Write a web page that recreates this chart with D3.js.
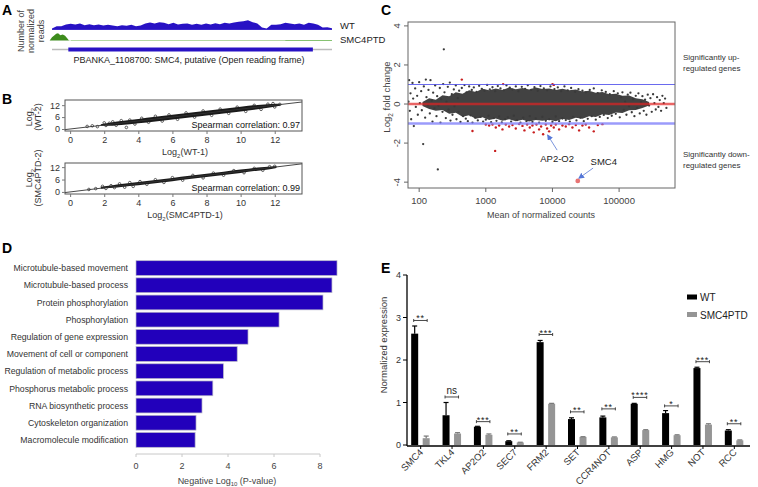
<!DOCTYPE html>
<html><head><meta charset="utf-8">
<script src="https://cdn.jsdelivr.net/npm/d3@7"></script>
<style>body{margin:0;background:#fff}svg{display:block;font-family:'Liberation Sans',Arial,Helvetica,sans-serif}</style>
</head><body>
<svg id="chart" width="758" height="487"></svg>
<script>
// ================= DATA =================
// Panel A: coverage (normalized reads) in 100-bp bins across the locus
const wtCoverage = [3,10,10,15,17,15,18,13,16,13, 15,12,14,12,10,13,11,14,10,12,
  18,21,18,22,20,16,20,15,17,18, 14,17,14,18,15,19,16,20,18,21,
  23,25,28,22,18,6,3,14,14,16, 20,18,16,18,14,20,18,14,6,7, 4];
const covBinStep = 100;
const smcPeakPos = [-50,0,40,90,130,180,230,280,330,360,400];
const smcPeakVal = [0,10,14,20,22,16,18,14,6,1,0];
const locusStart = 0, locusEnd = 6000, orfStart = 350, orfEnd = 5590;

// Panel B: log2 expression correlation (dense band envelope + scattered points)
const bandTopX  = [1.8,2.5,3,4,5,6,7,8,9,10,11,11.8,12.3];
const bandTopLo = [1.6,1.7,2.0,2.9,3.8,4.8,5.8,6.8,7.8,8.8,9.9,10.9,11.7];
const bandTopHi = [2.4,3.4,4.0,5.1,6.2,7.2,8.2,9.2,10.2,11.2,12.1,12.6,12.7];
const ptsTopX = [1.0,1.3,1.6,2.0,2.1,2.3,2.5,2.7,3.0,3.3,3.5,3.8,4.2,4.6,5.0,5.4,5.8,6.3,6.8,7.3,7.8,8.3,8.8,9.3,9.8,10.3,10.8,11.2,11.6,12.0,12.3,11.9];
const ptsTopY = [1.3,1.6,1.2,3.1,1.8,2.9,3.6,1.9,4.2,0.8,4.5,2.5,5.4,3.4,6.4,4.0,7.1,4.9,8.1,6.0,9.1,6.9,10.0,7.9,11.0,8.9,11.9,9.9,12.5,11.1,12.4,12.8];
const bandBotX  = [1.8,2.5,3,4,5,6,7,8,9,10,11,11.8,12.1];
const bandBotLo = [1.6,2.0,2.4,3.2,4.2,5.2,6.2,7.2,8.2,9.2,10.3,11.1,11.6];
const bandBotHi = [2.5,3.2,3.8,4.8,5.8,6.8,7.8,8.8,9.8,10.8,11.8,12.3,12.4];
const ptsBotX = [1.1,1.5,1.9,2.1,2.4,2.6,2.9,3.2,3.5,3.7,4.1,4.5,5.0,5.5,6.0,6.6,7.2,7.8,8.4,9.0,9.6,10.2,10.8,11.3,11.7,12.0];
const ptsBotY = [1.2,1.6,2.7,1.7,3.0,2.1,3.9,2.3,4.5,2.7,5.0,3.7,5.9,4.6,6.9,5.7,8.0,6.8,9.1,8.1,10.3,9.3,11.4,10.5,12.2,12.4];

// Panel C: MA plot (log10 mean of normalized counts, log2 fold change)
const coreLog = [2.05,2.15,2.25,2.35,2.45,2.55,2.65,2.75,2.85,2.95,3.05,3.15,3.25,3.35,3.45,3.55,3.65,3.75,3.85,3.95,
                 4.05,4.15,4.25,4.35,4.45,4.55,4.65,4.75,4.85,4.95,5.05,5.15,5.25,5.35,5.45];
const coreHi  = [0.1,0.3,0.22,0.45,0.4,0.6,0.52,0.7,0.62,0.78,0.7,0.8,0.72,0.84,0.76,0.82,0.74,0.85,0.77,0.8,
                 0.72,0.78,0.7,0.74,0.64,0.68,0.58,0.62,0.5,0.52,0.42,0.44,0.3,0.25,0.1];
const coreLo  = [-0.1,-0.25,-0.35,-0.3,-0.5,-0.45,-0.65,-0.58,-0.75,-0.68,-0.82,-0.74,-0.86,-0.78,-0.88,-0.8,-0.9,-0.82,-0.86,-0.8,
                 -0.88,-0.76,-0.82,-0.7,-0.76,-0.62,-0.66,-0.52,-0.56,-0.44,-0.46,-0.32,-0.3,-0.2,-0.08];
const grayPts = [
 [1.84,0.12],[1.85,1.22],[1.86,-0.35],[1.87,0.55],[1.88,-0.78],[1.9,1.08],[1.91,0.28],[1.92,-1.13],[1.94,0.8],[1.95,-0.15],
 [1.97,0.42],[1.98,-0.55],[2.0,1.12],[2.01,0.05],[2.03,0.66],[2.04,-0.32],[2.06,-2.05],[2.07,0.9],[2.09,-0.7],[2.1,1.25],
 [2.11,0.35],[2.13,-0.05],[2.14,0.72],[2.16,-0.48],[2.17,1.22],[2.19,0.18],[2.2,-0.9],[2.21,0.58],[2.23,-0.22],[2.24,0.95],
 [2.26,-0.62],[2.27,0.4],[2.28,-3.35],[2.29,-0.08],[2.31,0.82],[2.32,-0.95],[2.33,0.25],[2.35,-0.4],[2.36,1.02],[2.37,2.8],
 [2.38,0.6],[2.4,-0.72],[2.41,0.12],[2.43,0.88],[2.44,-0.28],[2.46,1.1],[2.47,-0.85],[2.49,0.5],[2.5,-0.55],[2.52,0.75],
 [2.53,-0.12],[2.55,0.95],[2.56,-0.78],[2.58,0.3],[2.59,-0.4],[2.6,0.68],
 [2.62,-0.92],[2.64,0.82],[2.66,-0.62],[2.68,0.97],[2.7,-0.75],[2.71,0.6],[2.73,-0.88],[2.75,0.9],[2.77,-0.58],[2.79,0.72],
 [2.8,-0.95],[2.82,0.85],[2.84,-0.7],[2.86,0.62],[2.88,-0.84],[2.9,0.93],[2.92,-0.66],[2.94,0.78],[2.96,-0.9],[2.98,0.68],
 [3.0,-0.8],[3.02,0.98],[3.04,-0.6],[3.06,0.75],[3.08,-0.93],[3.1,0.86],[3.12,-0.72],[3.14,0.66],[3.16,-0.86],[3.18,0.92],
 [3.2,-0.64],[3.22,0.8],[3.24,-0.94],[3.27,0.7],[3.29,-0.78],[3.31,0.95],[3.33,-0.68],[3.36,0.84],[3.38,-0.9],[3.4,0.74],
 [3.42,-0.6],[3.45,0.9],[3.47,-0.82],[3.49,0.66],[3.52,-0.95],[3.54,0.88],[3.56,-0.7],[3.59,0.78],[3.61,-0.88],[3.63,0.96],
 [3.66,-0.62],[3.68,0.72],[3.7,-0.92],[3.73,0.86],[3.75,-0.74],[3.78,0.68],[3.8,-0.96],[3.82,0.92],[3.85,-0.66],[3.87,0.8],
 [3.9,-0.86],[3.92,0.7],[3.95,-0.78],[3.97,0.9],[4.0,-0.92],[4.03,0.76],[4.05,-0.64],[4.08,0.85],[4.1,-0.88],[4.13,0.66],
 [4.15,-0.74],[4.18,0.9],[4.2,-0.82],[4.23,0.7],[4.26,-0.9],[4.28,0.82],[4.31,-0.66],[4.34,0.62],[4.36,-0.84],[4.39,0.76],
 [4.42,-0.7],[4.45,0.68],[4.47,-0.88],[4.5,0.6],[4.53,-0.76],[4.56,0.72],[4.59,-0.62],[4.62,0.8],[4.65,-0.8],[4.68,0.56],
 [4.71,-0.66],[4.74,0.7],[4.77,-0.56],[4.8,0.62],[4.83,-0.72],[4.86,0.5],[4.89,-0.6],[4.92,0.66],[4.95,-0.5],[4.98,0.55],
 [5.01,-0.68],[5.03,0.35],[5.05,0.6],[5.07,-0.3],[5.09,0.12],[5.11,-0.55],[5.13,0.48],[5.15,-0.12],[5.17,0.58],[5.19,-0.42],
 [5.21,0.25],[5.23,-0.62],[5.25,0.42],[5.27,-0.2],[5.29,0.55],[5.31,-0.48],[5.33,0.1],[5.35,0.4],[5.37,-0.35],[5.39,0.22],
 [5.41,-0.55],[5.43,0.48],[5.45,-0.08],[5.47,0.3],[5.49,-0.4],[5.51,0.5],[5.53,0.05],[5.55,-0.28],[5.57,0.35],[5.59,-0.15],
 [5.61,0.2],[5.63,-0.35],[5.65,0.42],[5.67,0.05],[5.69,0.28],[5.71,-0.2]];
const redPts = [[2.64,1.25],[3.26,1.02],[4.0,1.02],[4.02,0.98],[2.8,-1.38],[3.14,-2.4],
 [3.0,-1.05],[3.05,-1.1],[3.1,-1.05],[3.15,-1.2],[3.2,-1.1],[3.25,-1.3],[3.3,-1.05],[3.35,-1.15],[3.4,-1.08],[3.45,-1.25],
 [3.5,-1.02],[3.55,-1.12],[3.58,-1.35],[3.62,-1.05],[3.66,-1.2],[3.7,-1.1],[3.72,-1.45],[3.76,-1.05],[3.8,-1.3],[3.83,-1.15],
 [3.86,-1.55],[3.9,-1.05],[3.92,-1.25],[3.95,-1.4],[3.98,-1.1],[4.02,-1.2],[4.05,-1.05],[4.1,-1.3],[4.15,-1.1],[4.2,-1.15],
 [4.25,-1.03],[4.3,-1.2],[4.35,-1.08],[4.4,-1.35],[4.45,-1.1],[4.5,-1.05],[4.55,-1.2],[4.62,-1.4],[4.68,-1.08],[4.75,-1.03]];
const smc4Point = [4.38,-3.94];
const maAnnot = [{label:"AP2-O2", head:[3.93,-1.6], tail:[4.07,-2.36], text:[4.07,-2.96]},
                 {label:"SMC4",   head:[4.40,-3.79], tail:[4.61,-3.28], text:[4.77,-3.12]}];
const maXTicks = [100,1000,10000,100000];
const maYTicks = [-4,-2,0,2,4];

// Panel D: GO enrichment
const goTerms = ["Microtubule-based movement","Microtubule-based process","Protein phosphorylation","Phosphorylation",
 "Regulation of gene expression","Movement of cell or component","Regulation of metabolic process",
 "Phosphorus metabolic process","RNA biosynthetic process","Cytoskeleton organization","Macromolecule modification"];
const goNegLogP = [8.74,8.52,8.13,6.22,4.87,4.40,3.80,3.34,2.87,2.61,2.57];
const goTicks = [0,2,4,6,8];

// Panel E: qRT-PCR
const genes = ["SMC4","TKL4","AP2O2","SEC7","FRM2","SET","CCR4NOT","ASP","HMG","NOT","RCC"];
const wtMean  = [2.62,0.70,0.43,0.09,2.42,0.61,0.65,0.97,0.75,1.81,0.34];
const wtErr   = [0.18,0.30,0.01,0.01,0.04,0.03,0.03,0.01,0.06,0.02,0.02];
const mutMean = [0.16,0.27,0.24,0.06,0.97,0.19,0.18,0.35,0.23,0.48,0.11];
const mutErr  = [0.05,0.02,0.02,0.005,0.01,0.005,0.01,0.01,0.01,0.02,0.01];
const sigLabel = ["**","ns","***","**","***","**","**","****","*","***","**"];
const sigLevel = [2.93,1.13,0.55,0.26,2.60,0.78,0.85,1.12,0.92,1.96,0.50];
const eTicks = [0,1,2,3,4];

// ================= DRAW =================
const svg = d3.select("#chart");
const FF = "'Liberation Sans',Arial,sans-serif";
function txt(x,y,s,size,o={}){
  const t = svg.append("text").attr("x",x).attr("y",y).text(s).attr("font-size",size).attr("fill",o.fill||"#222");
  if(o.anchor) t.attr("text-anchor",o.anchor);
  if(o.weight) t.attr("font-weight",o.weight);
  if(o.rotate!==undefined) t.attr("transform",`rotate(${o.rotate},${x},${y})`);
  return t;
}
[["A",2,15],["B",2,104],["C",381,15],["D",2,253],["E",381,273]].forEach(d=>txt(d[1],d[2],d[0],14,{weight:"bold",fill:"#000"}));

// ---------- Panel A ----------
const xA = d3.scaleLinear().domain([locusStart,locusEnd]).range([52,332]);
const hA = d3.scaleLinear().domain([0,30]).range([0,10]);
const wtBase = 29.5, smcBase = 40.5;
svg.append("line").attr("x1",xA(locusStart)).attr("x2",xA(locusEnd)).attr("y1",wtBase).attr("y2",wtBase).attr("stroke","#2812c4").attr("stroke-width",0.8);
svg.append("path").datum(wtCoverage.map((v,i)=>[i*covBinStep,v]))
  .attr("d",d3.area().x(d=>xA(d[0])).y0(wtBase).y1(d=>wtBase-hA(d[1])))
  .attr("fill","#2812c4");
svg.append("line").attr("x1",xA(400)).attr("x2",xA(locusEnd)).attr("y1",smcBase).attr("y2",smcBase).attr("stroke","#b3d8a4").attr("stroke-width",1.2);
svg.append("line").attr("x1",xA(5000)).attr("x2",xA(locusEnd)).attr("y1",smcBase).attr("y2",smcBase).attr("stroke","#86c272").attr("stroke-width",1.2);
svg.append("path").datum(smcPeakPos.map((p,i)=>[p,smcPeakVal[i]]))
  .attr("d",d3.area().x(d=>xA(d[0])).y0(smcBase).y1(d=>smcBase-hA(d[1])))
  .attr("fill","#3d8c1c");
svg.append("line").attr("x1",xA(locusStart)).attr("x2",xA(locusEnd)).attr("y1",49.5).attr("y2",49.5).attr("stroke","#bbb").attr("stroke-width",1.5);
svg.append("rect").attr("x",xA(orfStart)).attr("width",xA(orfEnd)-xA(orfStart)).attr("y",47.5).attr("height",4).attr("fill","#2812c4");
txt(340,29,"WT",9.5);
txt(340,43,"SMC4PTD",9.5);
txt(189,63,"PBANKA_1108700: SMC4, putative (Open reading frame)",9,{anchor:"middle"});
[["Number of",24],["normalized",34],["reads",44]].forEach(d=>txt(d[1],31,d[0],9,{anchor:"middle",rotate:-90,fill:"#444"}));

// ---------- Panel B ----------
function drawCorr(o){
  const x = d3.scaleLinear().domain([-0.3,13.6]).range([65,302]);
  const y = d3.scaleLinear().domain(o.yDom).range([o.y1,o.y0]);
  svg.append("clipPath").attr("id",o.id).append("rect").attr("x",65).attr("y",o.y0).attr("width",237).attr("height",o.y1-o.y0);
  const inner = svg.append("g").attr("clip-path",`url(#${o.id})`);
  inner.append("path").datum(o.bx.map((v,i)=>[v,o.blo[i],o.bhi[i]]))
    .attr("d",d3.area().x(d=>x(d[0])).y0(d=>y(d[1])).y1(d=>y(d[2])).curve(d3.curveMonotoneX))
    .attr("fill","#1a1a1a");
  inner.selectAll("circle").data(o.px.map((v,i)=>[v,o.py[i]])).join("circle")
    .attr("cx",d=>x(d[0])).attr("cy",d=>y(d[1])).attr("r",1.3)
    .attr("fill","none").attr("stroke","#222").attr("stroke-width",0.7);
  inner.append("line").attr("x1",x(-0.3)).attr("y1",y(-0.3)).attr("x2",x(13.6)).attr("y2",y(13.6)).attr("stroke","#333").attr("stroke-width",0.9);
  svg.append("rect").attr("x",65).attr("y",o.y0).attr("width",237).attr("height",o.y1-o.y0).attr("fill","none").attr("stroke","#555");
  const ax = svg.append("g").attr("transform",`translate(0,${o.y1})`).call(d3.axisBottom(x).tickValues([0,2,4,6,8,10,12]).tickSize(3).tickPadding(3));
  ax.select(".domain").remove();
  ax.selectAll("text").attr("font-size",9).attr("fill","#333").attr("font-family",FF);
  ax.selectAll("line").attr("stroke","#777");
  const ay = svg.append("g").attr("transform","translate(65,0)").call(d3.axisLeft(y).tickValues([0,6,12]).tickSize(3).tickPadding(2));
  ay.select(".domain").remove();
  ay.selectAll("text").attr("font-size",9).attr("fill","#333").attr("font-family",FF);
  ay.selectAll("line").attr("stroke","#777");
  txt(300,o.y1-3,o.spearman,9,{anchor:"end",fill:"#111"});
  const yl1 = svg.append("text").attr("font-size",9).attr("fill","#333").attr("text-anchor","middle")
    .attr("transform",`translate(32,${o.ymid}) rotate(-90)`);
  yl1.append("tspan").text("Log");
  yl1.append("tspan").text("2").attr("font-size",6).attr("dy",2.5);
  txt(41,o.ymid,o.ylab,9,{anchor:"middle",rotate:-90,fill:"#333"});
  const xl = svg.append("text").attr("x",185).attr("y",o.y1+24).attr("font-size",9).attr("fill","#333").attr("text-anchor","middle");
  xl.append("tspan").text("Log");
  xl.append("tspan").text("2").attr("font-size",6).attr("dy",2.5);
  xl.append("tspan").text(o.xlab).attr("dy",-2.5);
}
drawCorr({id:"clipB1",y0:100,y1:131,yDom:[-1,14.6],bx:bandTopX,blo:bandTopLo,bhi:bandTopHi,px:ptsTopX,py:ptsTopY,
  spearman:"Spearman correlation: 0.97",ylab:"(WT-2)",xlab:"(WT-1)",ymid:117});
drawCorr({id:"clipB2",y0:163,y1:194,yDom:[-1,14],bx:bandBotX,blo:bandBotLo,bhi:bandBotHi,px:ptsBotX,py:ptsBotY,
  spearman:"Spearman correlation: 0.99",ylab:"(SMC4PTD-2)",xlab:"(SMC4PTD-1)",ymid:178});

// ---------- Panel C ----------
const xC = d3.scaleLog().domain([68,690000]).range([408,675]);
const yC = d3.scaleLinear().domain([-4.3,4.2]).range([188,22]);
const cx = l=>xC(Math.pow(10,l));
svg.append("clipPath").attr("id","clipC").append("rect").attr("x",408).attr("y",22).attr("width",267).attr("height",166);
const gC = svg.append("g").attr("clip-path","url(#clipC)");
gC.append("path").datum(coreLog.map((l,i)=>[l,coreLo[i],coreHi[i]]))
  .attr("d",d3.area().x(d=>cx(d[0])).y0(d=>yC(d[1])).y1(d=>yC(d[2])).curve(d3.curveLinear))
  .attr("fill","#424242");
gC.selectAll("circle.g").data(grayPts).join("circle").attr("class","g")
  .attr("cx",d=>cx(d[0])).attr("cy",d=>yC(d[1])).attr("r",1.15).attr("fill","#3a3a3a");
gC.selectAll("circle.r").data(redPts).join("circle").attr("class","r")
  .attr("cx",d=>cx(d[0])).attr("cy",d=>yC(d[1])).attr("r",1.2).attr("fill","#c81e1e");
gC.append("circle").attr("cx",cx(smc4Point[0])).attr("cy",yC(smc4Point[1])).attr("r",2.4).attr("fill","#e87474");
gC.append("line").attr("x1",408).attr("x2",675).attr("y1",yC(1)).attr("y2",yC(1)).attr("stroke","rgba(80,80,235,0.85)").attr("stroke-width",1.2);
gC.append("line").attr("x1",408).attr("x2",675).attr("y1",yC(-1)).attr("y2",yC(-1)).attr("stroke","rgba(130,130,250,0.8)").attr("stroke-width",2.5);
gC.append("line").attr("x1",408).attr("x2",675).attr("y1",yC(0)).attr("y2",yC(0)).attr("stroke","rgba(225,35,35,0.7)").attr("stroke-width",2.5);
svg.append("rect").attr("x",408).attr("y",22).attr("width",267).attr("height",166).attr("fill","none").attr("stroke","#666");
maYTicks.forEach(t=>{
  svg.append("line").attr("x1",404).attr("x2",408).attr("y1",yC(t)).attr("y2",yC(t)).attr("stroke","#666");
  txt(400,yC(t),String(t),9.5,{anchor:"middle",rotate:-90,fill:"#444"});
});
maXTicks.forEach(t=>{
  svg.append("line").attr("x1",xC(t)).attr("x2",xC(t)).attr("y1",188).attr("y2",192).attr("stroke","#666");
  txt(xC(t),204,String(t),9.5,{anchor:"middle",fill:"#444"});
});
txt(541,218,"Mean of normalized counts",9,{anchor:"middle",fill:"#444"});
const ylC = svg.append("text").attr("font-size",9.5).attr("fill","#444").attr("text-anchor","middle").attr("transform","translate(390,97) rotate(-90)");
ylC.append("tspan").text("Log");
ylC.append("tspan").text("2").attr("font-size",6.5).attr("dy",2.5);
ylC.append("tspan").text(" fold change").attr("dy",-2.5);
svg.append("defs").append("marker").attr("id","arrC").attr("viewBox","0 0 10 10").attr("refX",8).attr("refY",5)
  .attr("markerWidth",6).attr("markerHeight",6).attr("orient","auto")
  .append("path").attr("d","M0,0L10,5L0,10z").attr("fill","#5577d8");
maAnnot.forEach(a=>{
  svg.append("line").attr("x1",cx(a.tail[0])).attr("y1",yC(a.tail[1])).attr("x2",cx(a.head[0])).attr("y2",yC(a.head[1]))
    .attr("stroke","#7b95dd").attr("stroke-width",1).attr("marker-end","url(#arrC)");
  txt(cx(a.text[0]),yC(a.text[1]),a.label,9.5,{anchor:"middle",fill:"#222"});
});
txt(683,60,"Significantly up-",8,{fill:"#333"});
txt(683,71,"regulated genes",8,{fill:"#333"});
txt(683,157,"Significantly down-",8,{fill:"#333"});
txt(683,168,"regulated genes",8,{fill:"#333"});

// ---------- Panel D ----------
const xD = d3.scaleLinear().domain([0,8]).range([136,320]);
const yD = d3.scaleBand().domain(goTerms).range([259.5,448.5]).paddingInner(0.14).paddingOuter(0.07);
svg.selectAll("rect.go").data(goTerms).join("rect").attr("class","go")
  .attr("x",xD(0)).attr("y",d=>yD(d)).attr("height",yD.bandwidth())
  .attr("width",(d,i)=>xD(goNegLogP[i])-xD(0))
  .attr("fill","#2200bb").attr("stroke","#b8b8c8").attr("stroke-width",0.7);
goTerms.forEach(t=>txt(128,yD(t)+yD.bandwidth()/2+3.2,t,8.7,{anchor:"end",fill:"#333"}));
svg.append("line").attr("x1",xD(0)).attr("x2",xD(8)).attr("y1",454).attr("y2",454).attr("stroke","#c8c8c8");
goTicks.forEach(t=>{
  svg.append("line").attr("x1",xD(t)).attr("x2",xD(t)).attr("y1",454).attr("y2",457).attr("stroke","#c8c8c8");
  txt(xD(t),469,String(t),9,{anchor:"middle",fill:"#444"});
});
const xlD = svg.append("text").attr("x",227).attr("y",484).attr("font-size",9).attr("fill","#444").attr("text-anchor","middle");
xlD.append("tspan").text("Negative Log");
xlD.append("tspan").text("10").attr("font-size",6).attr("dy",2);
xlD.append("tspan").text(" (P-value)").attr("dy",-2);

// ---------- Panel E ----------
const xE = d3.scaleBand().domain(genes).range([405,750]);
const yE = d3.scaleLinear().domain([0,4]).range([445,275]);
const bw = 7;
genes.forEach((g,i)=>{
  const c = xE(g)+xE.bandwidth()/2;
  const bx = c-9.5, mx = c+2;
  svg.append("rect").attr("x",bx).attr("y",yE(wtMean[i])).attr("width",bw).attr("height",yE(0)-yE(wtMean[i])).attr("fill","#000");
  svg.append("rect").attr("x",mx).attr("y",yE(mutMean[i])).attr("width",bw).attr("height",yE(0)-yE(mutMean[i])).attr("fill","#959595");
  [[bx+bw/2,wtMean[i],wtErr[i],"#000"],[mx+bw/2,mutMean[i],mutErr[i],"#777"]].forEach(e=>{
    svg.append("line").attr("x1",e[0]).attr("x2",e[0]).attr("y1",yE(e[1])).attr("y2",yE(e[1]+e[2])).attr("stroke",e[3]).attr("stroke-width",1.2);
    svg.append("line").attr("x1",e[0]-2.5).attr("x2",e[0]+2.5).attr("y1",yE(e[1]+e[2])).attr("y2",yE(e[1]+e[2])).attr("stroke",e[3]).attr("stroke-width",1.2);
  });
  const l = bx+bw/2-1, r = mx+bw/2+1, sy = yE(sigLevel[i]);
  svg.append("line").attr("x1",l).attr("x2",r).attr("y1",sy).attr("y2",sy).attr("stroke","#333").attr("stroke-width",0.9);
  svg.append("line").attr("x1",l).attr("x2",l).attr("y1",sy-1.5).attr("y2",sy+1.5).attr("stroke","#333").attr("stroke-width",0.9);
  svg.append("line").attr("x1",r).attr("x2",r).attr("y1",sy-1.5).attr("y2",sy+1.5).attr("stroke","#333").attr("stroke-width",0.9);
  if(sigLabel[i]==="ns") txt((l+r)/2,sy-2.5,"ns",10,{anchor:"middle",fill:"#222"});
  else txt((l+r)/2,sy+1,sigLabel[i],9,{anchor:"middle",fill:"#222"}).attr("letter-spacing",0.8);
  svg.append("line").attr("x1",c).attr("x2",c).attr("y1",446).attr("y2",449).attr("stroke","#000");
  txt(c+3,453,g,9.5,{anchor:"end",rotate:-45,fill:"#333"});
});
svg.append("line").attr("x1",407).attr("x2",750).attr("y1",446).attr("y2",446).attr("stroke","#000").attr("stroke-width",1.3);
svg.append("line").attr("x1",407).attr("x2",407).attr("y1",275).attr("y2",446).attr("stroke","#000").attr("stroke-width",1.3);
eTicks.forEach(t=>{
  svg.append("line").attr("x1",403).attr("x2",407).attr("y1",yE(t)).attr("y2",yE(t)).attr("stroke","#000");
  txt(401,yE(t)+3,String(t),9,{anchor:"end",fill:"#333"});
});
txt(387,345,"Normalized expression",9.5,{anchor:"middle",rotate:-90,fill:"#333"});
svg.append("rect").attr("x",687).attr("y",294.5).attr("width",10).attr("height",5).attr("fill","#000");
txt(700,301,"WT",10,{fill:"#222"});
svg.append("rect").attr("x",687).attr("y",312).attr("width",10).attr("height",5).attr("fill","#959595");
txt(700,318.5,"SMC4PTD",10,{fill:"#222"});
</script>
</body></html>
